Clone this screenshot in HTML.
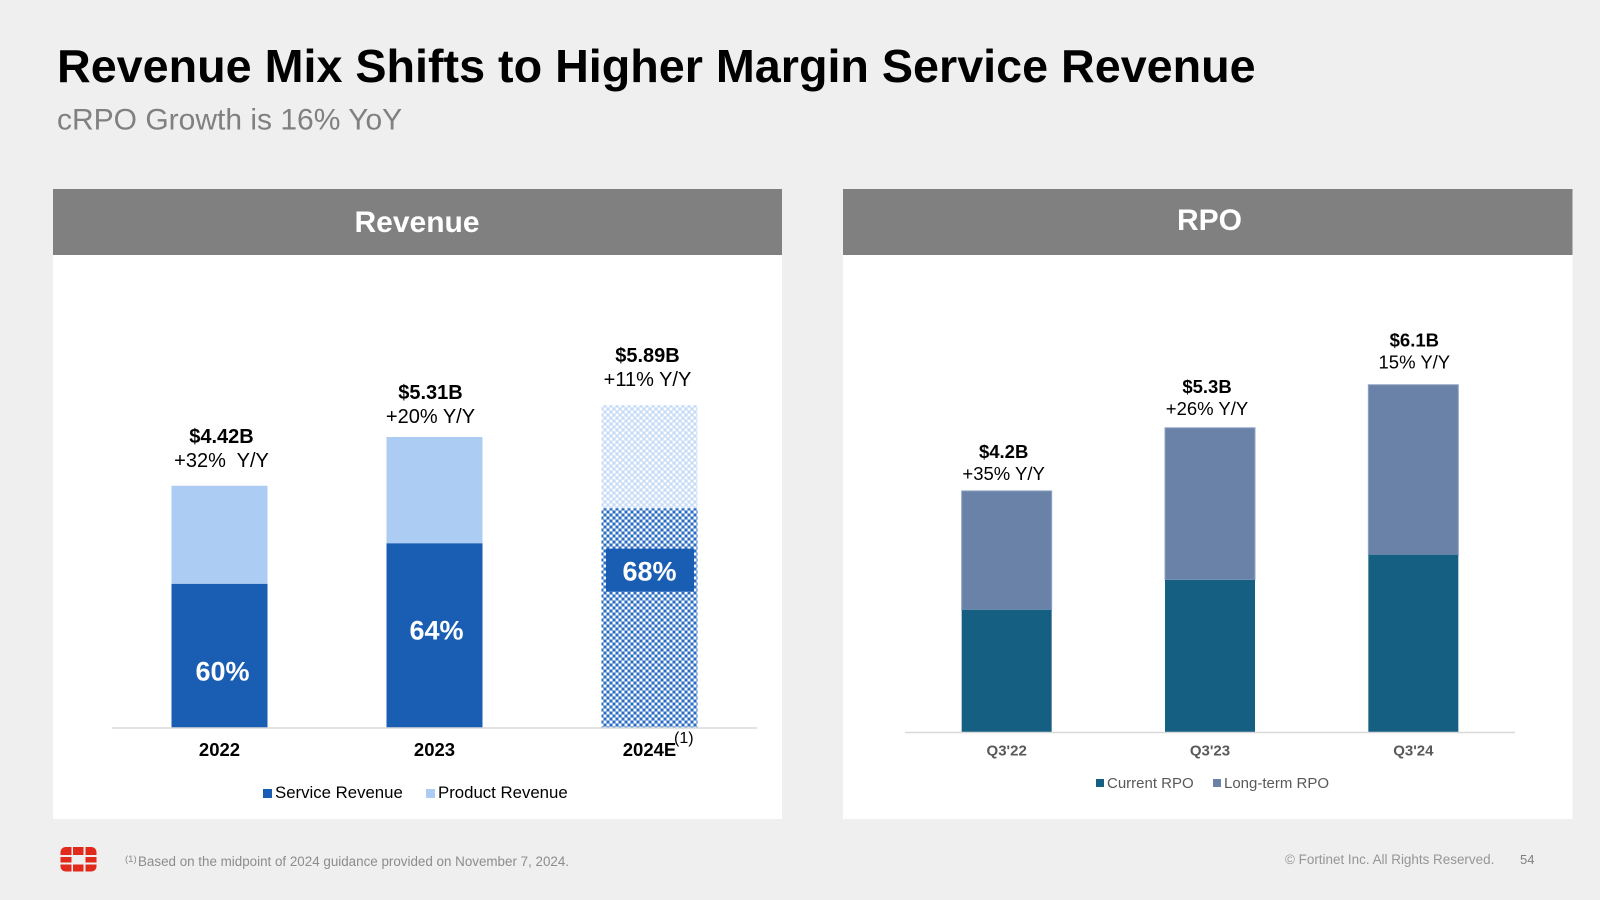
<!DOCTYPE html>
<html lang="en">
<head>
<meta charset="utf-8">
<title>Revenue Mix Shifts to Higher Margin Service Revenue</title>
<style>
html,body{margin:0;padding:0;background:#efefef;width:1600px;height:900px;overflow:hidden}
svg{display:block;font-family:"Liberation Sans",Arial,sans-serif}
text{white-space:pre}
</style>
</head>
<body>
<svg id="slide" width="1600" height="900" viewBox="0 0 1600 900" xmlns="http://www.w3.org/2000/svg">
  <defs>
    <pattern id="hatch-dark" patternUnits="userSpaceOnUse" x="601" y="508" width="6" height="6">
      <rect width="6" height="6" fill="#8db1e3"/>
      <rect x="0" y="0" width="2" height="2" fill="#ffffff"/>
      <rect x="3" y="3" width="2" height="2" fill="#ffffff"/>
      <rect x="3" y="0" width="2" height="2" fill="#2e6cbe"/>
      <rect x="0" y="3" width="2" height="2" fill="#2e6cbe"/>
    </pattern>
    <pattern id="hatch-light" patternUnits="userSpaceOnUse" x="601" y="405" width="6" height="6">
      <rect width="6" height="6" fill="#dce9fa"/>
      <rect x="0" y="0" width="2" height="2" fill="#ffffff"/>
      <rect x="3" y="3" width="2" height="2" fill="#ffffff"/>
      <rect x="3" y="0" width="2" height="2" fill="#c6dbf6"/>
      <rect x="0" y="3" width="2" height="2" fill="#c6dbf6"/>
    </pattern>
  </defs>

  <rect width="1600" height="900" fill="#efefef"/>
  <text x="57" y="82" font-size="46.7" font-weight="700" fill="#000">Revenue Mix Shifts to Higher Margin Service Revenue</text>
  <text x="57" y="129.5" font-size="30" fill="#808080">cRPO Growth is 16% YoY</text>

  <g>
    <rect x="53" y="189" width="729" height="630" fill="#fff"/>
    <rect x="53" y="189" width="729" height="66" fill="#808080"/>
    <text x="417" y="232" font-size="30" font-weight="700" fill="#fff" text-anchor="middle">Revenue</text>
    <g id="revenue-chart"></g>
    <line x1="112" y1="728" x2="757" y2="728" stroke="#d9d9d9" stroke-width="1.5"/>
    <text x="674" y="743" font-size="16" fill="#000">(1)</text>
    <g>
      <rect x="263" y="789" width="9" height="9" fill="#1a5eb4"/>
      <text x="275" y="798" font-size="16.8" fill="#000">Service Revenue</text>
      <rect x="426" y="789" width="9" height="9" fill="#acccf3"/>
      <text x="438" y="798" font-size="16.8" fill="#000">Product Revenue</text>
    </g>
  </g>

  <g>
    <rect x="843" y="189" width="729.5" height="630" fill="#fff"/>
    <rect x="843" y="189" width="729.5" height="66" fill="#808080"/>
    <text x="1209.5" y="230" font-size="30" font-weight="700" fill="#fff" text-anchor="middle">RPO</text>
    <g id="rpo-chart"></g>
    <line x1="905" y1="732.5" x2="1515" y2="732.5" stroke="#d9d9d9" stroke-width="1.5"/>
    <g>
      <rect x="1096" y="779" width="8" height="8" fill="#156082"/>
      <text x="1107" y="788" font-size="15" fill="#595959">Current RPO</text>
      <rect x="1213" y="779" width="8" height="8" fill="#6a82a8"/>
      <text x="1224" y="788" font-size="15" fill="#595959">Long-term RPO</text>
    </g>
  </g>

  <g fill="#e1291c">
    <path d="M60.5 855 v-3 a5 5 0 0 1 5 -5 h6 v8 z"/>
    <rect x="73" y="847" width="10.5" height="8"/>
    <path d="M85.5 847 h6 a5 5 0 0 1 5 5 v3 h-11 z"/>
    <rect x="60.5" y="857" width="11" height="5.5"/>
    <rect x="85.5" y="857" width="11" height="5.5"/>
    <path d="M60.5 864.5 h11 v7 h-6 a5 5 0 0 1 -5 -5 z"/>
    <rect x="73" y="864.5" width="10.5" height="7"/>
    <path d="M85.5 864.5 h11 v2 a5 5 0 0 1 -5 5 h-6 z"/>
  </g>
  <text x="125" y="862" font-size="9.5" fill="#8c8c8c">(1)</text>
  <text x="138" y="866" font-size="13.4" fill="#8c8c8c">Based on the midpoint of 2024 guidance provided on November 7, 2024.</text>
  <text x="1285" y="864" font-size="13.45" fill="#969696">© Fortinet Inc. All Rights Reserved.</text>
  <text x="1520" y="864" font-size="13" fill="#808080">54</text>
</svg>

<script>
// Revenue chart data ($B)
const revenueCategories = ['2022', '2023', '2024E'];
const serviceRevenue = [2.63, 3.37, 4.01];
const productRevenue = [1.79, 1.94, 1.88];
const revenueTotalLabels = ['$4.42B', '$5.31B', '$5.89B'];
const revenueGrowthLabels = ['+32%  Y/Y', '+20% Y/Y', '+11% Y/Y'];
const serviceShareLabels = ['60%', '64%', '68%'];

// RPO chart data ($B)
const rpoCategories = ["Q3'22", "Q3'23", "Q3'24"];
const currentRpo = [2.13, 2.65, 3.09];
const longTermRpo = [2.07, 2.65, 2.96];
const rpoTotalLabels = ['$4.2B', '$5.3B', '$6.1B'];
const rpoGrowthLabels = ['+35% Y/Y', '+26% Y/Y', '15% Y/Y'];

// Axis functions
const NS = 'http://www.w3.org/2000/svg';
const revenueY = v => 728 - v * 54.8;
const revenueX = i => 112 + 215 * (i + 0.5);
const rpoY = v => 732 - v * 57.4;
const rpoX = i => 905 + (610 / 3) * (i + 0.5);

// Hand-placed annotation offsets from the reference layout
const revenueTotalNudge = [[2, -43], [-4, -38], [-2, -43]];
const revenueShareNudge = [[3, 24.5], [2, 3.7], [0, -37.5]];
const rpoTotalNudge = [[-3, -33], [-3, -35], [1, -38]];

function makeRect(parent, x, y, w, h, fill) {
  const r = document.createElementNS(NS, 'rect');
  r.setAttribute('x', x);
  r.setAttribute('y', y);
  r.setAttribute('width', w);
  r.setAttribute('height', h);
  r.setAttribute('fill', fill);
  parent.appendChild(r);
  return r;
}
function makeText(parent, str, x, y, size, weight, fill) {
  const t = document.createElementNS(NS, 'text');
  t.setAttribute('x', x);
  t.setAttribute('y', y);
  t.setAttribute('font-size', size);
  t.setAttribute('font-weight', weight);
  t.setAttribute('fill', fill);
  t.setAttribute('text-anchor', 'middle');
  t.textContent = str;
  parent.appendChild(t);
  return t;
}

const revenueGroup = document.getElementById('revenue-chart');
const revenueBarWidth = 96;
revenueCategories.forEach((cat, i) => {
  const cx = revenueX(i);
  const left = cx - revenueBarWidth / 2;
  const yService = revenueY(serviceRevenue[i]);
  const yTotal = revenueY(serviceRevenue[i] + productRevenue[i]);
  const estimate = cat.endsWith('E');

  const product = makeRect(revenueGroup, left, yTotal, revenueBarWidth, yService - yTotal, estimate ? 'url(#hatch-light)' : '#acccf3');
  
  

  const service = makeRect(revenueGroup, left, yService, revenueBarWidth, revenueY(0) - yService, estimate ? 'url(#hatch-dark)' : '#1a5eb4');
  
  

  const shareY = (yService + revenueY(0)) / 2 + revenueShareNudge[i][1];
  if (estimate) {
    const box = makeRect(revenueGroup, cx - 43.5, shareY - 32, 88, 43, '#1a5eb4');
    
    
  }
  const share = makeText(revenueGroup, serviceShareLabels[i], cx + revenueShareNudge[i][0], shareY, 27, 700, '#fff');
  
  

  const total = makeText(revenueGroup, revenueTotalLabels[i], cx + revenueTotalNudge[i][0], yTotal + revenueTotalNudge[i][1], 20, 700, '#000');
  
  

  const growth = makeText(revenueGroup, revenueGrowthLabels[i], cx + revenueTotalNudge[i][0], yTotal + revenueTotalNudge[i][1] + 24, 20, 400, '#000');
  
  

  const tick = makeText(revenueGroup, cat, cx, 756, 18.5, 700, '#000');
  
  
});

const rpoGroup = document.getElementById('rpo-chart');
const rpoBarWidth = 90;
rpoCategories.forEach((cat, i) => {
  const cx = rpoX(i);
  const left = cx - rpoBarWidth / 2;
  const yCurrent = rpoY(currentRpo[i]);
  const yTotal = rpoY(currentRpo[i] + longTermRpo[i]);

  const longBar = makeRect(rpoGroup, left, yTotal, rpoBarWidth, yCurrent - yTotal, '#6a82a8');
  longBar.setAttribute('stroke', '#90a4c3');
  longBar.setAttribute('stroke-width', '1');
  
  

  const currentBar = makeRect(rpoGroup, left, yCurrent, rpoBarWidth, rpoY(0) - yCurrent, '#156082');
  
  

  const total = makeText(rpoGroup, rpoTotalLabels[i], cx + rpoTotalNudge[i][0], yTotal + rpoTotalNudge[i][1], 18.5, 700, '#000');
  
  

  const growth = makeText(rpoGroup, rpoGrowthLabels[i], cx + rpoTotalNudge[i][0], yTotal + rpoTotalNudge[i][1] + 22, 18.5, 400, '#000');
  
  

  const tick = makeText(rpoGroup, cat, cx, 755.5, 15, 700, '#595959');
  
  
});
</script>
</body>
</html>
